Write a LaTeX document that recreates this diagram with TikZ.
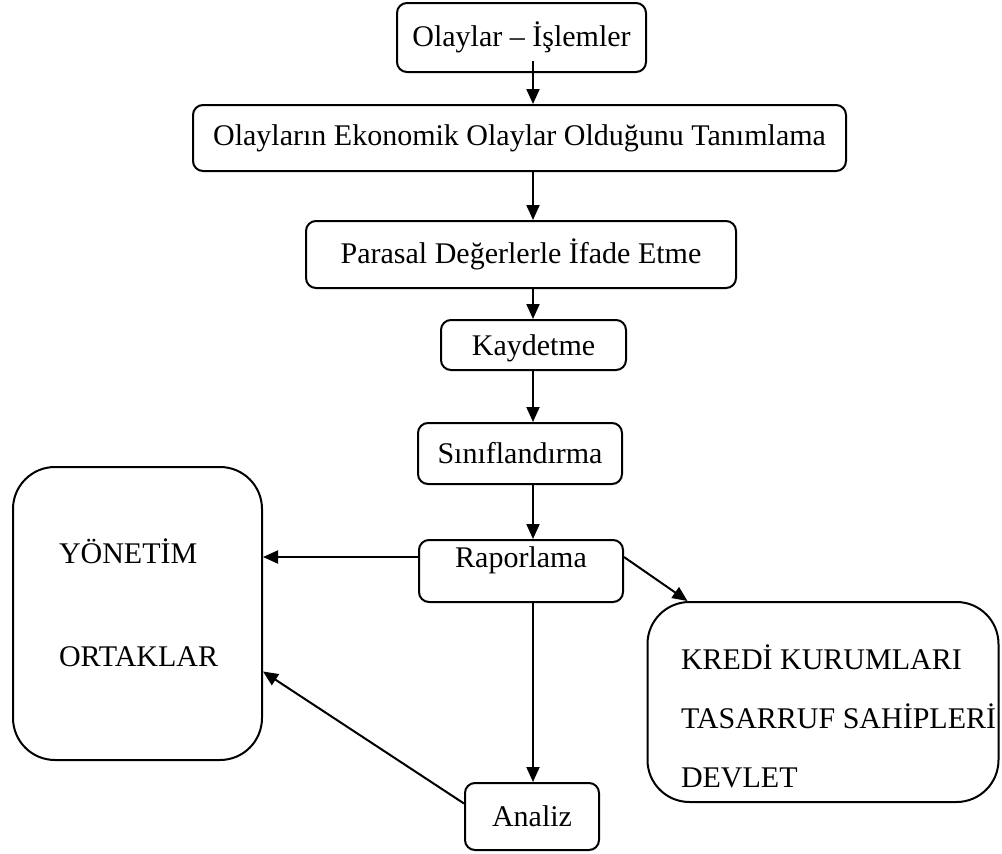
\documentclass[tikz,border=0pt]{standalone}
\usepackage{fontspec}
\setmainfont{Liberation Serif}
\usetikzlibrary{arrows.meta}

\begin{document}
\begin{tikzpicture}[
            x = 1pt, y = -1pt, % pixel like units, y going down
            > = {Triangle[length=15pt,width=13pt]}, % arrow head style
            line width = 2pt, % line style
            font = \fontsize{30}{36}\selectfont
        ]

        \tikzstyle{box}=[
        draw = black,
        rectangle,
        rounded corners = 10pt,
        inner sep = 2pt
        ]
        \tikzstyle{bigbox}=[
        draw = black,
        rectangle,
        rounded corners = 42pt
        ]
        \tikzstyle{label}=[
        anchor = base west,
        inner sep = 0pt
        ]

        \useasboundingbox (0,0) rectangle (1002,854);

        \node[box, minimum width=249, minimum height=69] (olaylar) at (521.5,37.5) {Olaylar – İşlemler};
        \node[box, minimum width=653, minimum height=66] (ekonomik) at (519.5,138) {Olayların Ekonomik Olaylar Olduğunu Tanımlama};
        \node[box, minimum width=430, minimum height=67] (parasal) at (521,254.5) {Parasal Değerlerle İfade Etme};
        \node[box, minimum width=185, minimum height=50, text height=27pt] (kaydetme) at (533.5,345) {Kaydetme};
        \node[box, minimum width=204, minimum height=61] (sinif) at (520,453.5) {Sınıflandırma};
        \node[box, minimum width=204, minimum height=62, text depth=27pt] (rapor) at (521,571) {Raporlama};
        \node[box, minimum width=134, minimum height=67] (analiz) at (532,816.5) {Analiz};

        \node[bigbox, minimum width=249, minimum height=293] (yonetim) at (137.5,613.5) {};
        \node[label] (yon) at (58,563) {YÖNETİM};
        \node[label] (ort) at (58,666) {ORTAKLAR};

        \node[bigbox, minimum width=351, minimum height=200] (kredi) at (823,702) {};
        \node[label] (kre) at (680,669) {KREDİ KURUMLARI};
        \node[label] (tas) at (680,728) {TASARRUF SAHİPLERİ};
        \node[label] (dev) at (680,787) {DEVLET};

        \coordinate (axis) at (533,0);

        \draw[->] ([yshift=12pt]olaylar.south -| axis) -- (ekonomik.north -| axis);
        \draw[->] (ekonomik.south -| axis) -- (parasal.north -| axis);
        \draw[->] (parasal.south -| axis) -- (kaydetme.north -| axis);
        \draw[->] (kaydetme.south -| axis) -- (sinif.north -| axis);
        \draw[->] (sinif.south -| axis) -- (rapor.north -| axis);
        \draw[->] (rapor.south -| axis) -- (analiz.north -| axis);

        \draw[->] ([yshift=14pt]rapor.west) coordinate (r1) -- (r1 -| yonetim.east);
        \draw[->] ([yshift=14pt]rapor.east) -- ([xshift=41pt]kredi.north west);
        \draw[->] ([yshift=13pt]analiz.west) -- ([yshift=-58pt]yonetim.east);
    \end{tikzpicture}
\end{document}
